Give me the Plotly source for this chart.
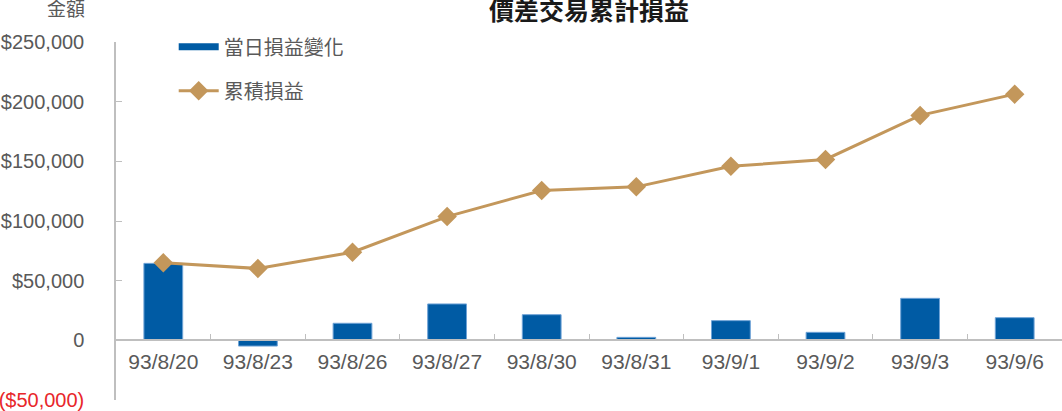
import plotly.graph_objects as go

dates = ["93/8/20", "93/8/23", "93/8/26", "93/8/27", "93/8/30",
         "93/8/31", "93/9/1", "93/9/2", "93/9/3", "93/9/6"]
daily_pnl = [64500, -4800, 14300, 30500, 21500, 2500, 16500, 6700, 35200, 19000]
cumulative_pnl = [65000, 60200, 73800, 103700, 125600, 128600, 145800, 151600, 188500, 206300]

y_tickvals = [-50000, 0, 50000, 100000, 150000, 200000, 250000]
y_ticktext = ["<span style='color:#E8262A'>($50,000)</span>", "0", "$50,000",
              "$100,000", "$150,000", "$200,000", "$250,000"]

series_names = ["當日損益變化", "累積損益"]
title_text = "價差交易累計損益"
y_title = "金額"

BLUE = "#005BA4"
TAN = "#C3975B"
GRAY_TXT = "#595959"
AXIS = "#BFBFBF"
FONT = "Liberation Sans, Noto Sans CJK TC, sans-serif"

fig = go.Figure()
fig.add_trace(go.Bar(
    x=dates, y=daily_pnl, name=series_names[0], showlegend=False,
    marker=dict(color=BLUE, line=dict(color="#6FA3D6", width=1)),
    width=0.41,
))
# legend entry for bars drawn as a thick line (as in the reference)
fig.add_trace(go.Scatter(
    x=[None], y=[None], mode="lines", name=series_names[0],
    line=dict(color=BLUE, width=7), legendgroup="a",
))
fig.add_trace(go.Scatter(
    x=dates, y=cumulative_pnl, mode="lines+markers", name=series_names[1],
    line=dict(color=TAN, width=3),
    marker=dict(symbol="diamond", size=15, color=TAN),
    legendgroup="b",
))

fig.update_layout(
    width=1062, height=411,
    margin=dict(l=116, r=0, t=42, b=11, autoexpand=False),
    plot_bgcolor="white", paper_bgcolor="white",
    font=dict(family=FONT, size=20, color=GRAY_TXT),
    bargap=0.59,
    legend=dict(
        x=0.061, y=1.041, xanchor="left", yanchor="top",
        font=dict(size=20, color=GRAY_TXT),
        itemwidth=40, tracegroupgap=15,
        bgcolor="rgba(0,0,0,0)",
    ),
    xaxis=dict(
        type="category", anchor="free", position=1/6, range=[-0.5, 9.5],
        showline=True, linecolor=AXIS, linewidth=1.5,
        ticks="inside", ticklen=6, tickcolor=AXIS, tickson="boundaries",
        tickfont=dict(size=21, color=GRAY_TXT), ticklabelstandoff=3,
        showgrid=False, zeroline=False, automargin=False,
    ),
    yaxis=dict(
        range=[-50000, 250000], tickvals=y_tickvals, ticktext=y_ticktext,
        showline=True, linecolor=AXIS, linewidth=1.5,
        ticks="inside", ticklen=6, tickcolor=AXIS,
        tickfont=dict(size=20, color=GRAY_TXT), ticklabelstandoff=26,
        showgrid=False, zeroline=False, automargin=False,
    ),
    annotations=[
        dict(text="<b>" + title_text + "</b>", xref="paper", yref="paper",
             x=0.5, y=1.087, xanchor="center", yanchor="middle",
             showarrow=False, font=dict(size=25, color="#1a1a1a")),
        dict(text=y_title, xref="paper", yref="paper",
             x=-0.031, y=1.092, xanchor="right", yanchor="middle",
             showarrow=False, font=dict(size=19, color=GRAY_TXT)),
    ],
)

fig.write_html("out.html", config={"displayModeBar": False},
               post_script="document.body.style.margin='0';")
